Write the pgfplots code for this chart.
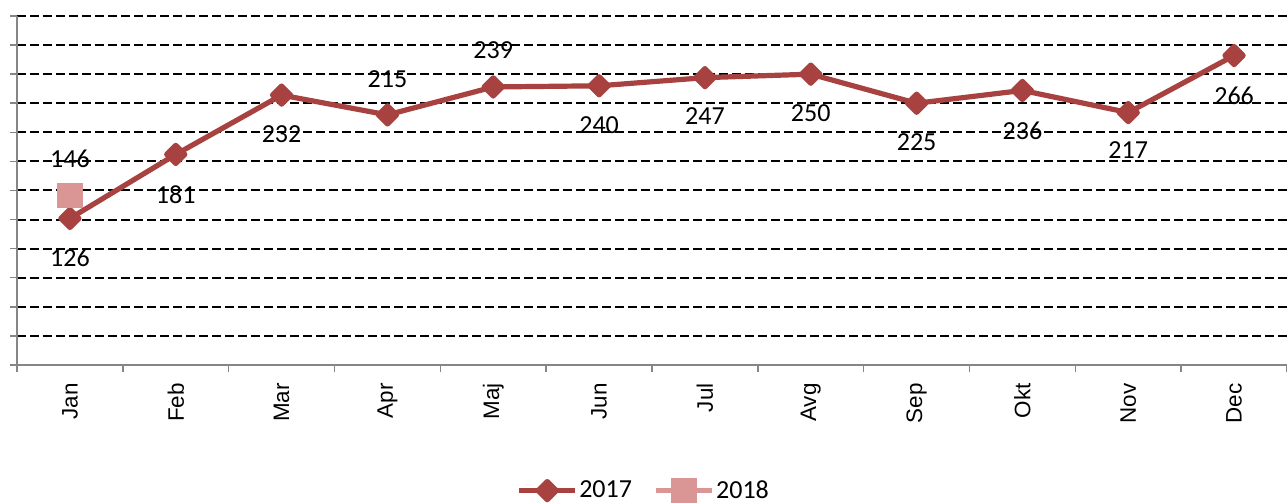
\documentclass[border=0pt]{standalone}
\usepackage{fontspec}
\setmainfont{Carlito}
\newfontfamily\arialf{Liberation Sans}
\usepackage{pgfplots}
\pgfplotsset{compat=1.18}
\usepackage{pgfplotstable}

\definecolor{c17}{RGB}{168,66,64}
\definecolor{c18}{RGB}{217,150,148}
\definecolor{axgray}{RGB}{134,134,134}

\pgfplotstableread{
x y dy label
0 126 -19.5 126
1 181 -20 181
2 232 -19.5 232
3 215 18 215
4 239 18.5 239
5 240 -19.5 240
6 247 -19 247
7 250 -19.5 250
8 225 -19.5 225
9 236 -20 236
10 217 -19 217
11 266 -20 266
}\dataA
\pgfplotstableread{
x y dy label
0 146 18 146
}\dataB

\begin{document}
\begin{tikzpicture}
\begin{axis}[
  scale only axis, width=635pt, height=174.5pt,
  xmin=-0.5, xmax=11.5, ymin=0, ymax=300,
  axis x line*=bottom, axis y line*=left,
  axis line style={axgray, line width=0.75pt},
  xtick={0,...,11},
  xticklabels={Jan,Feb,Mar,Apr,Maj,Jun,Jul,Avg,Sep,Okt,Nov,Dec},
  major x tick style={draw=none},
  minor xtick={-0.5,0.5,...,11.5},
  minor x tick style={axgray, line width=0.75pt},
  minor tick length=3.5pt,
  major tick length=3.5pt,
  tick align=outside,
  ytick={25,50,...,300}, yticklabels={},
  extra y ticks={0}, extra y tick labels={}, extra y tick style={grid=none},
  ymajorgrids,
  major grid style={black, line width=1pt, dash pattern=on 4.5pt off 2pt},
  y tick style={axgray, line width=0.75pt},
  x tick label style={font=\arialf\fontsize{11.2}{13}\selectfont, rotate=90, anchor=east, inner sep=0pt},
  xticklabel shift=5.5pt,
  clip=false,
  legend style={at={(rel axis cs:0.4933,-0.36)}, anchor=center, draw=none,
    legend columns=2, inner sep=0pt, nodes={inner sep=0.75pt},
    /tikz/every even column/.append style={column sep=10pt},
    font=\fontsize{13}{15}\selectfont},
  legend image code/.code={\draw[mark repeat=2,mark phase=2,#1] plot coordinates {(0pt,0pt) (14pt,0pt) (28pt,0pt)};},
]
\coordinate (O) at (rel axis cs:0,0);
\addplot[c17, line width=2.6pt, line join=round, mark=square*, mark size=3.2pt,
  mark options={rotate=45, solid},
  nodes near coords, point meta=explicit symbolic,
  visualization depends on={\thisrow{dy} \as \dy},
  every node near coord/.append style={anchor=center, yshift=\dy pt, text=black, font=\fontsize{13}{15}\selectfont}]
  table[x=x,y=y,meta=label]{\dataA};
\addlegendentry{2017}
\addplot[c18, line width=2.6pt, mark=square*, mark size=5pt,
  mark options={solid},
  nodes near coords, point meta=explicit symbolic,
  visualization depends on={\thisrow{dy} \as \dy},
  every node near coord/.append style={anchor=center, yshift=\dy pt, text=black, font=\fontsize{13}{15}\selectfont}]
  table[x=x,y=y,meta=label]{\dataB};
\addlegendentry{2018}
\end{axis}
\pgfresetboundingbox
\path ([shift={(-8.5pt,-69pt)}]O) rectangle ([shift={(635pt,182.5pt)}]O);
\end{tikzpicture}
\end{document}
